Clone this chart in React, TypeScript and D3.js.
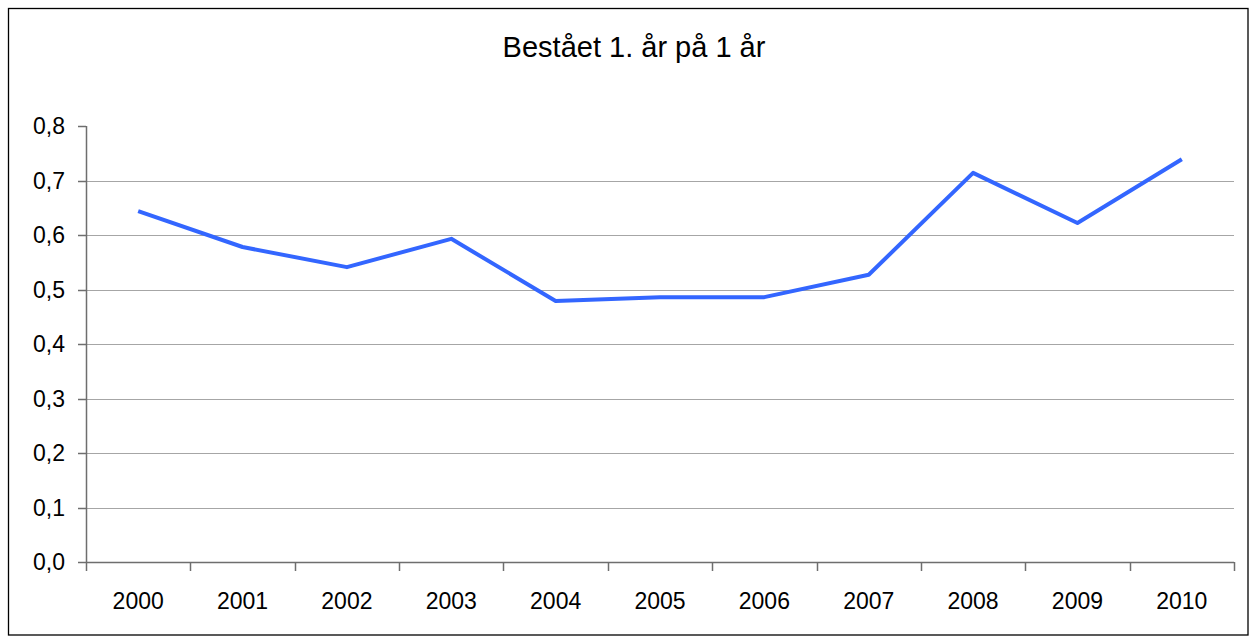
import { useEffect, useRef } from "react";
import * as d3 from "d3";

const title = "Bestået 1. år på 1 år";
const years = ["2000", "2001", "2002", "2003", "2004", "2005", "2006", "2007", "2008", "2009", "2010"];
const values = [0.644, 0.578, 0.541, 0.593, 0.479, 0.486, 0.486, 0.527, 0.714, 0.622, 0.739];
const yTicks = [0, 0.1, 0.2, 0.3, 0.4, 0.5, 0.6, 0.7, 0.8];

const W = 1249;
const H = 636;
const margin = { top: 126, right: 15, bottom: 74, left: 86 };
const font = "'Liberation Sans', Arial, sans-serif";

export default function App() {
  const svgRef = useRef<SVGSVGElement>(null);

  useEffect(() => {
    const svg = d3.select(svgRef.current);
    svg.selectAll("*").remove();

    const x0 = margin.left;
    const x1 = W - margin.right;
    const y0 = H - margin.bottom;
    const y1 = margin.top;

    // band for labels / points, linear index scale for the boundary ticks
    const x = d3.scaleBand().domain(years).range([x0, x1]);
    const xEdge = d3.scaleLinear().domain([0, years.length]).range([x0, x1]);
    const y = d3.scaleLinear().domain([0, 0.8]).range([y0, y1]);
    const fmt = (v: number) => d3.format(".1f")(v).replace(".", ",");

    // outer frame
    svg
      .append("rect")
      .attr("x", 8.5)
      .attr("y", 8.5)
      .attr("width", W - 9.5)
      .attr("height", H - 9.5)
      .attr("fill", "#fff")
      .attr("stroke", "#000")
      .attr("stroke-width", 1.3);

    svg
      .append("text")
      .attr("x", 634)
      .attr("y", 57)
      .attr("text-anchor", "middle")
      .attr("font-family", font)
      .attr("font-size", 29)
      .attr("fill", "#000")
      .text(title);

    // gridlines (no line at the top value)
    svg
      .append("g")
      .selectAll("line")
      .data(yTicks.filter((t) => t > 0 && t < 0.8))
      .join("line")
      .attr("x1", x0)
      .attr("x2", x1)
      .attr("y1", (d) => Math.round(y(d)) + 0.5)
      .attr("y2", (d) => Math.round(y(d)) + 0.5)
      .attr("stroke", "#a6a6a6")
      .attr("stroke-width", 1.2);

    // y axis
    const gy = svg.append("g");
    gy.append("line")
      .attr("x1", x0 + 0.5)
      .attr("x2", x0 + 0.5)
      .attr("y1", y1)
      .attr("y2", y0)
      .attr("stroke", "#6e6e6e")
      .attr("stroke-width", 1.5);
    gy.selectAll(".tick")
      .data(yTicks)
      .join("line")
      .attr("x1", x0 - 8)
      .attr("x2", x0)
      .attr("y1", (d) => Math.round(y(d)) + 0.5)
      .attr("y2", (d) => Math.round(y(d)) + 0.5)
      .attr("stroke", "#6e6e6e")
      .attr("stroke-width", 1.5);
    gy.selectAll("text")
      .data(yTicks)
      .join("text")
      .attr("x", 65)
      .attr("y", (d) => y(d))
      .attr("dy", "0.35em")
      .attr("text-anchor", "end")
      .attr("font-family", font)
      .attr("font-size", 23)
      .attr("fill", "#000")
      .text(fmt);

    // x axis
    const gx = svg.append("g");
    gx.append("line")
      .attr("x1", x0)
      .attr("x2", x1)
      .attr("y1", y0 + 0.5)
      .attr("y2", y0 + 0.5)
      .attr("stroke", "#6e6e6e")
      .attr("stroke-width", 1.5);
    gx.selectAll(".tick")
      .data(d3.range(years.length + 1))
      .join("line")
      .attr("x1", (d) => Math.round(xEdge(d)) + 0.5)
      .attr("x2", (d) => Math.round(xEdge(d)) + 0.5)
      .attr("y1", y0)
      .attr("y2", y0 + 9)
      .attr("stroke", "#6e6e6e")
      .attr("stroke-width", 1.5);
    gx.selectAll("text")
      .data(years)
      .join("text")
      .attr("x", (d) => x(d)! + x.bandwidth() / 2)
      .attr("y", 609)
      .attr("text-anchor", "middle")
      .attr("font-family", font)
      .attr("font-size", 23)
      .attr("fill", "#000")
      .text((d) => d);

    // series line
    const line = d3
      .line<number>()
      .x((_, i) => x(years[i])! + x.bandwidth() / 2)
      .y((d) => y(d));
    svg
      .append("path")
      .datum(values)
      .attr("d", line)
      .attr("fill", "none")
      .attr("stroke", "#3366ff")
      .attr("stroke-width", 4)
      .attr("stroke-linejoin", "round");
  }, []);

  return (
    <svg
      ref={svgRef}
      width={W}
      height={H}
      style={{ position: "absolute", left: 0, top: 0, background: "#fff" }}
    />
  );
}
